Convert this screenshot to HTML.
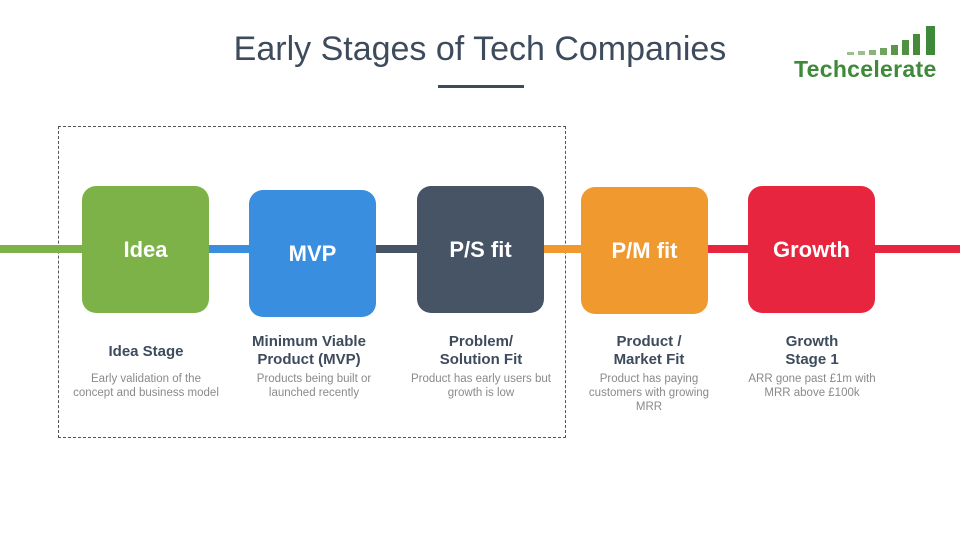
<!DOCTYPE html>
<html><head><style>
body{margin:0;width:960px;height:540px;background:#fff;position:relative;overflow:hidden;font-family:"Liberation Sans",sans-serif}
.a{position:absolute}
.box{position:absolute;width:127px;height:127px;border-radius:14px;color:#fff;font-weight:bold;font-size:22px;display:flex;align-items:center;justify-content:center}
.ln{position:absolute;top:245px;height:8px}
.h{position:absolute;width:160px;text-align:center;font-weight:bold;font-size:15px;color:#3d4b5c;line-height:18px}
.d{position:absolute;width:160px;text-align:center;font-size:11.5px;color:#8a8a8a;line-height:14px}
</style></head><body>
<div class="a" style="left:0;width:960px;top:30px;text-align:center;font-size:34px;color:#3d4b5c">Early Stages of Tech Companies</div>
<div class="a" style="left:438px;width:86px;top:85px;height:3px;background:#3d4b5c"></div>
<div class="a" style="left:794px;top:56px;font-size:23px;font-weight:bold;color:#3f8a3a;letter-spacing:0.3px">Techcelerate</div>
<svg class="a" style="left:845px;top:26px" width="95" height="32">
<rect x="2" y="26" width="7" height="3" fill="#9bbf8e"/><rect x="13" y="25" width="7" height="4" fill="#9bbf8e"/><rect x="24" y="24" width="7" height="5" fill="#8ab37a"/><rect x="35" y="22" width="7" height="7" fill="#6fa35e"/><rect x="46" y="19" width="7" height="10" fill="#5a9548"/><rect x="57" y="14" width="7" height="15" fill="#4f9042"/><rect x="68" y="8" width="7" height="21" fill="#468b3a"/><rect x="81" y="0" width="9" height="29" fill="#3f8a3a"/>
</svg>
<div class="a" style="left:58px;top:126px;width:506px;height:310px;border:1px dashed #555"></div>
<div class="ln" style="left:0;width:90px;background:#7db249"></div>
<div class="ln" style="left:200px;width:55px;background:#3a8ee0"></div>
<div class="ln" style="left:370px;width:55px;background:#465466"></div>
<div class="ln" style="left:535px;width:55px;background:#f0992e"></div>
<div class="ln" style="left:700px;width:260px;background:#e8253f"></div>
<div class="box" style="left:82px;top:186px;background:#7db249">Idea</div>
<div class="box" style="left:249px;top:190px;background:#3a8ee0">MVP</div>
<div class="box" style="left:417px;top:186px;background:#465466">P/S fit</div>
<div class="box" style="left:581px;top:187px;background:#f0992e">P/M fit</div>
<div class="box" style="left:748px;top:186px;background:#e8253f">Growth</div>
<div class="h" style="left:66px;top:343px">Idea Stage</div>
<div class="d" style="left:61px;top:372px;width:170px">Early validation of the<br>concept and business model</div>
<div class="h" style="left:229px;top:333px">Minimum Viable<br>Product (MVP)</div>
<div class="d" style="left:234px;top:372px">Products being built or<br>launched recently</div>
<div class="h" style="left:401px;top:333px">Problem/<br>Solution Fit</div>
<div class="d" style="left:396px;top:372px;width:170px">Product has early users but<br>growth is low</div>
<div class="h" style="left:569px;top:333px">Product /<br>Market Fit</div>
<div class="d" style="left:569px;top:372px">Product has paying<br>customers with growing<br>MRR</div>
<div class="h" style="left:732px;top:333px">Growth<br>Stage 1</div>
<div class="d" style="left:732px;top:372px">ARR gone past £1m with<br>MRR above £100k</div>
</body></html>
